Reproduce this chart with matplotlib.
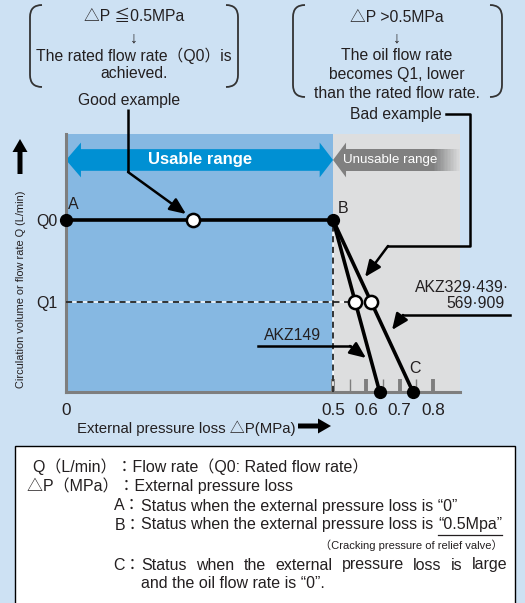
import numpy as np
import matplotlib.pyplot as plt
from matplotlib.patches import Polygon, Rectangle, PathPatch, FancyArrow
from matplotlib.path import Path

# values
q0 = 1.0            # rated flow rate (relative units)
q1 = 0.525          # reduced flow rate
dp_relief = 0.5     # point B, cracking pressure (MPa)
dp_good = 0.237     # good example marker
dp_zero_149 = 0.64  # AKZ149 reaches zero flow
dp_zero_big = 0.74  # AKZ329/439/569/909 reach zero flow (point C)

flat_dp = [0.0, dp_relief]
flat_q = [q0, q0]
drop_q = [q0, 0.0]
akz149_dp = [dp_relief, dp_zero_149]
akzbig_dp = [dp_relief, dp_zero_big]

x_ticks = [0, 0.5, 0.6, 0.7, 0.8]
x_ticklabels = ['0', '0.5', '0.6', '0.7', '0.8']
gray_major = [0.5, 0.6, 0.7, 0.8]
gray_minor = [0.55, 0.65, 0.75]
y_ticks = [q1, q0]
y_ticklabels = ['Q1', 'Q0']

bg = '#cde1f3'
blue_area = '#86b8e2'
gray_area = '#dddedf'
arrow_blue = '#0090d3'
arrow_gray = '#808080'
axis_gray = '#7e7e7e'
ink = '#231f20'

fam = ['Liberation Sans', 'Noto Sans CJK JP', 'DejaVu Sans']
plt.rcParams['font.family'] = fam
plt.rcParams['text.color'] = ink

# broken x axis: right of 0.5 MPa is drawn at a smaller scale
k = 0.624
def fwd(x):
    x = np.asarray(x, float)
    return np.where(x <= 0.5, x, 0.5 + (x - 0.5) * k)
def inv(x):
    x = np.asarray(x, float)
    return np.where(x <= 0.5, x, 0.5 + (x - 0.5) / k)

W, H = 525, 603
fig = plt.figure(figsize=(W / 100, H / 100), dpi=100)
fig.patch.set_facecolor(bg)

def px_axes(l, t, r, b, **kw):
    return fig.add_axes([l / W, 1 - b / H, (r - l) / W, (b - t) / H], **kw)

x_max = 0.881
ax = px_axes(66, 134, 460, 392)
ax.set_xscale('function', functions=(fwd, inv))
ax.set_xlim(0, x_max)
ax.set_ylim(0, 1.5)
ax.set_facecolor('none')
ax.axvspan(0, dp_relief, color=blue_area, lw=0, zorder=0)
ax.axvspan(dp_relief, x_max, color=gray_area, lw=0, zorder=0)
for s in ['top', 'right']:
    ax.spines[s].set_visible(False)
ax.spines['left'].set_color(axis_gray)
ax.spines['left'].set_linewidth(2.2)
ax.spines['bottom'].set_color(axis_gray)
ax.spines['bottom'].set_linewidth(2.2)

ax.set_xticks(x_ticks, x_ticklabels, fontsize=12.3)
ax.set_yticks(y_ticks, y_ticklabels, fontsize=11.5)
ax.tick_params(axis='x', length=0, pad=8, colors=ink)
ax.tick_params(axis='y', length=0, pad=6, colors=ink)
ax.vlines(gray_major, 0, 0.075, color=axis_gray, lw=2.8)
ax.vlines(gray_minor, 0, 0.075, color=axis_gray, lw=1.0)

# usable / unusable range arrows
yc, bh, hh = 1.349, 0.063, 0.101
hl_l, hl_r = 0.028, 0.025
ax.add_patch(Polygon([(0, yc), (hl_l, yc + hh), (hl_l, yc + bh), (dp_relief - hl_r, yc + bh),
                      (dp_relief - hl_r, yc + hh), (dp_relief, yc), (dp_relief - hl_r, yc - hh),
                      (dp_relief - hl_r, yc - bh), (hl_l, yc - bh), (hl_l, yc - hh)],
                     closed=True, color=arrow_blue, lw=0, zorder=2))
g_head = 0.539
ax.add_patch(Polygon([(dp_relief, yc), (g_head, yc + hh), (g_head, yc - hh)],
                     closed=True, color=arrow_gray, lw=0, zorder=2))
edges = np.linspace(g_head - 0.002, x_max, 80)
for a, b in zip(edges[:-1], edges[1:]):
    al = float(np.clip((x_max - 0.5 * (a + b)) / (x_max - 0.80), 0, 1))
    ax.fill_between([a, b], yc - bh, yc + bh, color=arrow_gray, alpha=al, lw=0,
                    antialiased=False, zorder=2)
ax.text(0.251, yc, 'Usable range', color='white', fontsize=12, fontweight='bold',
        ha='center', va='center', zorder=3)
ax.text(0.671, yc, 'Unusable range', color='white', fontsize=9.6,
        ha='center', va='center', zorder=3)

# guide lines
cross149 = float(np.interp(q1, drop_q[::-1], akz149_dp[::-1]))
crossbig = float(np.interp(q1, drop_q[::-1], akzbig_dp[::-1]))
for c, ls in [('white', '-'), ('black', (0, (4, 3)))]:
    ax.plot([0, crossbig], [q1, q1], color=c, lw=1.1, ls=ls, zorder=3)
    ax.plot([dp_relief, dp_relief], [0, q0], color=c, lw=1.1, ls=ls, zorder=3)

# curves
for xs in (flat_dp, akz149_dp, akzbig_dp):
    ys = flat_q if xs is flat_dp else drop_q
    ax.plot(xs, ys, color='black', lw=2.6, zorder=4, solid_capstyle='round')
ax.plot([flat_dp[0], dp_relief, dp_zero_149, dp_zero_big], [q0, q0, 0, 0], 'o',
        color='black', ms=8.5, zorder=5, clip_on=False)
ax.plot([dp_good, cross149, crossbig], [q0, q1, q1], 'o', mfc='white', mec='black',
        mew=1.8, ms=9.5, zorder=6)

for lab, xy, off in [('A', (0, q0), (5, 11)), ('B', (dp_relief, q0), (7.5, 8)),
                     ('C', (dp_zero_big, 0), (1.5, 17))]:
    ax.annotate(lab, xy=xy, xytext=off, textcoords='offset points', fontsize=11.5,
                ha='center', va='center', zorder=6)

# overlay in pixel units for the notes around the chart
ov = fig.add_axes([0, 0, 1, 1], zorder=5)
ov.set_xlim(0, W)
ov.set_ylim(H, 0)
ov.axis('off')

def bracket(x, top, bot, side, r=12):
    d = -side * r
    verts = [(x + d, top), (x, top), (x, top + r), (x, bot - r), (x, bot), (x + d, bot)]
    codes = [Path.MOVETO, Path.CURVE3, Path.CURVE3, Path.LINETO, Path.CURVE3, Path.CURVE3]
    ov.add_patch(PathPatch(Path(verts, codes), fc='none', ec='#333333', lw=1.3))

bracket(30, 5, 87, -1)
bracket(238, 5, 87, 1)
bracket(293, 5, 97, -1)
bracket(502, 5, 97, 1)

for y, s in [(17, '△P ≦0.5MPa'), (38, '↓'), (56, 'The rated flow rate（Q0）is'), (74, 'achieved.')]:
    ov.text(134, y, s, ha='center', va='center', fontsize=11.3)
for y, s in [(17, '△P >0.5MPa'), (38, '↓'), (56, 'The oil flow rate'),
             (75, 'becomes Q1, lower'), (94, 'than the rated flow rate.')]:
    ov.text(397, y, s, ha='center', va='center', fontsize=11.3)
ov.text(129, 100, 'Good example', ha='center', va='center', fontsize=11.3)
ov.text(396, 114, 'Bad example', ha='center', va='center', fontsize=11.3)

aprops = dict(arrowstyle='-|>,head_length=0.7,head_width=0.3', color='black', lw=1.8,
              shrinkA=0, shrinkB=0, mutation_scale=14)
ov.plot([128, 128], [109, 172], color='black', lw=1.8, solid_capstyle='butt')
ov.annotate('', xy=(186, 214), xytext=(128, 172), arrowprops=aprops)
ov.plot([446, 470, 470, 388], [114, 114, 246, 246], color='black', lw=1.8)
ov.annotate('', xy=(365, 277), xytext=(388, 246), arrowprops=aprops)
ov.plot([510, 403], [315, 315], color='black', lw=1.8)
ov.annotate('', xy=(392, 330), xytext=(403, 315), arrowprops=aprops)
ov.plot([258, 350], [346, 346], color='black', lw=1.8)
ov.annotate('', xy=(366, 358), xytext=(350, 346), arrowprops=aprops)
ov.text(509, 288, 'AKZ329·439·', ha='right', va='center', fontsize=11.3)
ov.text(505, 303, '569·909', ha='right', va='center', fontsize=11.3)
ov.text(293, 335, 'AKZ149', ha='center', va='center', fontsize=11.3)

# axis titles
ov.text(21, 289, 'Circulation volume or flow rate Q (L/min)', rotation=90, ha='center',
        va='center', fontsize=7.9)
ov.add_patch(FancyArrow(20, 174, 0, -35, width=5, head_width=15, head_length=13,
                        length_includes_head=True, color='black', lw=0))
ov.text(77, 428, 'External pressure loss △P(MPa)', ha='left', va='center', fontsize=10.8)
ov.add_patch(FancyArrow(298, 426, 33, 0, width=5, head_width=15, head_length=13,
                        length_includes_head=True, color='black', lw=0))

# notes box
ov.add_patch(Rectangle((15, 446), 500, 170, fc='white', ec='black', lw=1.0, clip_on=False))
fs = 11.5
ov.text(33, 467, 'Q（L/min）：Flow rate（Q0: Rated flow rate）', va='center', fontsize=fs)
ov.text(27, 486, '△P（MPa）：External pressure loss', va='center', fontsize=fs)
x_txt = 141
for y, key, s in [(506, 'A', 'Status when the external pressure loss is “0”'),
                  (525, 'B', 'Status when the external pressure loss is'),
                  (565, 'C', None)]:
    ov.text(x_txt, y, key + '：', va='center', ha='right', fontsize=fs)
    if s:
        ov.text(x_txt, y, s, va='center', fontsize=fs)

fig.canvas.draw()
r = fig.canvas.get_renderer()
tb = [t for t in ov.texts if t.get_text() == 'Status when the external pressure loss is'][0]
x_end = tb.get_window_extent(r).x1 + 5
q = ov.text(x_end, 525, '“0.5Mpa”', va='center', fontsize=fs)
qb = q.get_window_extent(r)
ov.plot([qb.x0, qb.x1], [535, 535], color=ink, lw=0.9)
ov.text(qb.x1, 545, '（Cracking pressure of relief valve）', va='center', ha='right', fontsize=8)

# justified line for C
words = 'Status when the external pressure loss is large'.split()
ts = [ov.text(0, 565, w, va='center', fontsize=fs) for w in words]
ws = [t.get_window_extent(r).width for t in ts]
x1 = 508
gap = (x1 - x_txt - sum(ws)) / (len(ws) - 1)
x = x_txt
for t, w in zip(ts, ws):
    t.set_x(x)
    x += w + gap
ov.text(x_txt, 584, 'and the oil flow rate is “0”.', va='center', fontsize=fs)

fig.savefig('out.png', dpi=100, facecolor=bg)
